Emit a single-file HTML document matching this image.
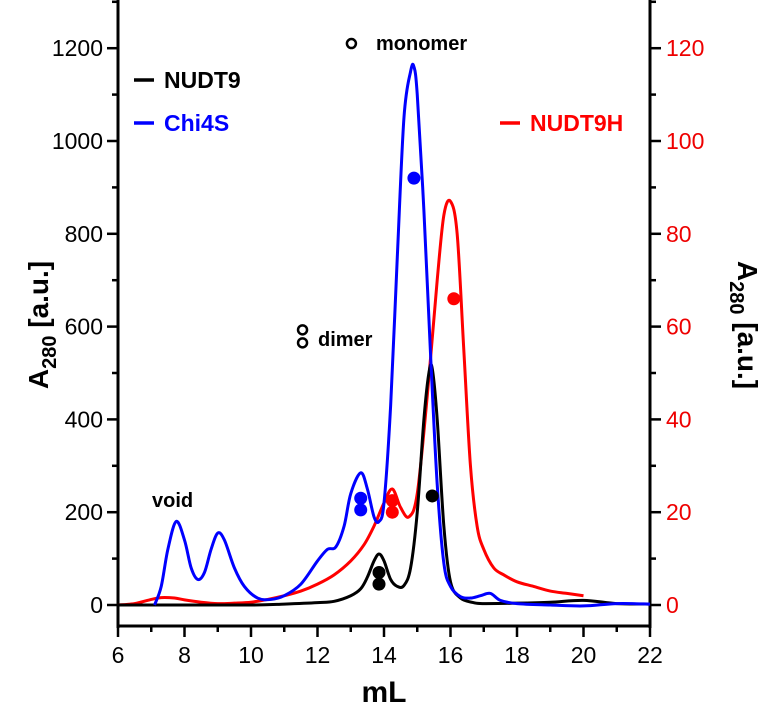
<!DOCTYPE html>
<html><head><meta charset="utf-8"><style>
body{margin:0;background:#fff}
svg text{font-family:"Liberation Sans",Arial,sans-serif}
</style></head><body>
<svg id="c" width="764" height="711"></svg>
<script>
const xTicks=[6,8,10,12,14,16,18,20,22];
const yTicksLeft=[0,200,400,600,800,1000,1200];
const yTicksRight=[0,20,40,60,80,100,120];
const chi4sX=[7.1,7.3,7.5,7.75,8.0,8.2,8.4,8.6,8.8,9.0,9.2,9.5,9.8,10.2,10.6,11.0,11.5,12.0,12.3,12.55,12.8,13.0,13.3,13.5,13.7,13.85,14.0,14.2,14.4,14.6,14.8,14.9,15.0,15.2,15.4,15.6,15.8,16.0,16.3,16.6,16.9,17.2,17.5,18,19,20,21,22];
const chi4sY=[0,40,120,180,140,80,55,70,120,155,140,80,40,15,12,20,45,95,120,125,170,240,285,250,190,180,220,430,750,1050,1150,1160,1100,850,540,260,90,40,18,15,20,25,10,3,0,-2,3,2];
const nudt9X=[6,8,10,11,12,12.5,13,13.3,13.5,13.7,13.85,14.0,14.2,14.4,14.6,14.8,15.0,15.2,15.35,15.45,15.6,15.8,16.0,16.3,16.7,17,18,19,20,21,22];
const nudt9Y=[0,0,0,2,5,8,20,35,60,95,110,95,55,40,42,80,200,400,500,510,400,170,50,15,5,3,4,6,10,3,2];
const nudt9hX=[6,6.5,7.0,7.3,7.7,8.0,8.5,9.0,9.5,10,10.5,11,11.5,12,12.5,13,13.4,13.7,14.0,14.25,14.5,14.75,15.0,15.3,15.6,15.8,16.0,16.2,16.4,16.6,16.8,17.0,17.3,17.6,18,18.5,19,19.5,20];
const nudt9hY=[0,0.3,1.2,1.6,1.5,1.1,0.6,0.3,0.4,0.6,1.2,2,3,4.5,6.5,9.5,13,17,22,25,21,19,24,45,70,84,87,80,55,30,17,12,8,6.5,5,4,3,2.5,2];
const dotsBlue=[[13.3,230],[13.3,205],[14.9,920]];
const dotsBlack=[[13.85,70],[13.85,45],[15.45,235]];
const dotsRed=[[14.25,22.5],[14.25,20],[16.1,66]];
const openDots=[[11.55,593],[11.55,565],[13.02,1210]];

const NS="http://www.w3.org/2000/svg";
const svg=document.getElementById('c');
const X=v=>118+(v-6)*33.25;
const YL=v=>605-v*0.464;
const YR=v=>605-v*4.64;
function el(t,a,p){const e=document.createElementNS(NS,t);for(const k in a)e.setAttribute(k,a[k]);(p||svg).appendChild(e);return e;}
function smooth(xs,ys,fy){const P=xs.map((x,i)=>[X(x),fy(ys[i])]);let d=`M${P[0][0]},${P[0][1]}`;for(let i=0;i<P.length-1;i++){const p0=P[i-1]||P[i],p1=P[i],p2=P[i+1],p3=P[i+2]||p2;d+=`C${p1[0]+(p2[0]-p0[0])/6},${p1[1]+(p2[1]-p0[1])/6} ${p2[0]-(p3[0]-p1[0])/6},${p2[1]-(p3[1]-p1[1])/6} ${p2[0]},${p2[1]}`;}return d;}

let e;
e=el('line',{x1:118,y1:0,x2:118,y2:628,stroke:'#000','stroke-width':3});

e=el('line',{x1:650,y1:0,x2:650,y2:628,stroke:'#000','stroke-width':3});

e=el('line',{x1:117,y1:626,x2:651,y2:626,stroke:'#000','stroke-width':3});

xTicks.forEach((t,i)=>{el('line',{x1:X(t),y1:626,x2:X(t),y2:637,stroke:'#000','stroke-width':2.5});
 if(i<xTicks.length-1)el('line',{x1:X(t+1),y1:626,x2:X(t+1),y2:632,stroke:'#000','stroke-width':2.5});
 const tx=el('text',{x:X(t),y:663,'text-anchor':'middle','font-size':23});tx.textContent=t;
 });
yTicksLeft.forEach((t,i)=>{el('line',{x1:107,y1:YL(t),x2:118,y2:YL(t),stroke:'#000','stroke-width':2.5});
 el('line',{x1:112,y1:YL(t+100),x2:118,y2:YL(t+100),stroke:'#000','stroke-width':2.5});
 const tx=el('text',{x:103,y:YL(t)+8,'text-anchor':'end','font-size':23});tx.textContent=t;
 });
yTicksRight.forEach(t=>{el('line',{x1:650,y1:YR(t),x2:661,y2:YR(t),stroke:'#000','stroke-width':2.5});
 el('line',{x1:650,y1:YR(t+10),x2:656,y2:YR(t+10),stroke:'#000','stroke-width':2.5});
 const tx=el('text',{x:666,y:YR(t)+8,'font-size':23,fill:'#e00'});tx.textContent=t;
 });

e=el('text',{x:384,y:702,'text-anchor':'middle','font-size':30,'font-weight':'bold'});e.textContent='mL';

e=el('text',{transform:'translate(48,325) rotate(-90)','text-anchor':'middle','font-size':28,'font-weight':'bold'});
e.innerHTML='A<tspan font-size="20" dy="8">280</tspan><tspan dy="-8"> [a.u.]</tspan>';

e=el('text',{transform:'translate(738,325) rotate(90)','text-anchor':'middle','font-size':28,'font-weight':'bold'});
e.innerHTML='A<tspan font-size="20" dy="8">280</tspan><tspan dy="-8"> [a.u.]</tspan>';


e=el('path',{d:smooth(nudt9hX,nudt9hY,YR),fill:'none',stroke:'#f00','stroke-width':3});

e=el('path',{d:smooth(nudt9X,nudt9Y,YL),fill:'none',stroke:'#000','stroke-width':3});

e=el('path',{d:smooth(chi4sX,chi4sY,YL),fill:'none',stroke:'#00f','stroke-width':3});


dotsBlue.forEach(p=>{const c=el('circle',{cx:X(p[0]),cy:YL(p[1]),r:6.5,fill:'#00f'});});
dotsBlack.forEach(p=>{const c=el('circle',{cx:X(p[0]),cy:YL(p[1]),r:6.5,fill:'#000'});});
dotsRed.forEach(p=>{const c=el('circle',{cx:X(p[0]),cy:YR(p[1]),r:6.5,fill:'#f00'});});
openDots.forEach(p=>{const c=el('circle',{cx:X(p[0]),cy:YL(p[1]),r:4.5,fill:'none',stroke:'#000','stroke-width':2.5});});

e=el('text',{x:376,y:50,'font-size':20,'font-weight':'bold'});e.textContent='monomer';

e=el('text',{x:318,y:346,'font-size':20,'font-weight':'bold'});e.textContent='dimer';

e=el('text',{x:152,y:507,'font-size':20,'font-weight':'bold'});e.textContent='void';


const leg=[[134,80,'#000','NUDT9'],[134,123,'#00f','Chi4S'],[500,123,'#f00','NUDT9H']];
leg.forEach(l=>{const g=el('g',{});
 el('line',{x1:l[0],y1:l[1],x2:l[0]+20,y2:l[1],stroke:l[2],'stroke-width':3.5},g);
 const t=el('text',{x:l[0]+30,y:l[1]+8,'font-size':23,'font-weight':'bold',fill:l[2]},g);t.textContent=l[3];});
</script>
</body></html>
